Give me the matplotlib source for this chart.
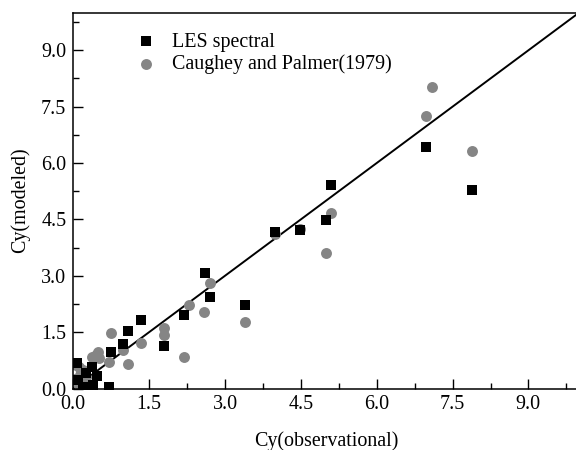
import matplotlib
matplotlib.use("Agg")
import matplotlib.pyplot as plt
import numpy as np
from matplotlib.ticker import MultipleLocator

# LES spectral (black squares)
les_x = [7.89, 6.98, 5.09, 4.99, 4.49, 3.99, 3.40, 2.70, 2.60, 2.19, 1.80, 1.34,
         1.09, 0.99, 0.75, 0.71, 0.47, 0.38, 0.36, 0.07, 0.19, 0.10, 0.25]
les_y = [5.28, 6.42, 5.42, 4.49, 4.23, 4.17, 2.21, 2.44, 3.08, 1.96, 1.13, 1.81,
         1.53, 1.19, 0.96, 0.04, 0.33, 0.10, 0.57, 0.67, 0.05, 0.22, 0.40]

# Caughey and Palmer (1979) (gray circles)
cp_x = [7.10, 6.98, 7.89, 5.09, 4.99, 4.49, 3.99, 3.39, 2.70, 2.58, 2.29, 2.19,
        1.80, 1.80, 1.34, 1.09, 0.99, 0.75, 0.71, 0.49, 0.44, 0.36, 0.51,
        0.12, 0.20, 0.13, 0.23, 0.07, 0.03, 0.26, 0.16, 0.06]
cp_y = [8.01, 7.26, 6.33, 4.67, 3.61, 4.25, 4.12, 1.77, 2.82, 2.03, 2.23, 0.84,
        1.61, 1.43, 1.21, 0.64, 1.02, 1.49, 0.71, 0.97, 0.90, 0.85, 0.80,
        0.58, 0.49, 0.36, 0.22, 0.14, 0.25, 0.30, 0.44, 0.62]

line_x = [0, 10]
line_y = [0, 10]

plt.rcParams['font.family'] = ['Liberation Serif', 'DejaVu Serif']

fig = plt.figure(figsize=(5.76, 4.5), dpi=100)
ax = fig.add_axes([73.3/576, 1-388.5/450, (579-73.3)/576, (388.5-12.7)/450])

ax.plot(line_x, line_y, color='black', lw=1.4, zorder=1)
ax.scatter(cp_x, cp_y, marker='o', s=62, color='#858585', linewidths=0,
           label='Caughey and Palmer(1979)', zorder=2)
ax.scatter(les_x, les_y, marker='s', s=52, color='black', linewidths=0,
           label='LES spectral', zorder=3)

ax.set_xlim(0, 10)
ax.set_ylim(0, 10)
ax.xaxis.set_major_locator(MultipleLocator(1.5))
ax.yaxis.set_major_locator(MultipleLocator(1.5))
ax.xaxis.set_minor_locator(MultipleLocator(0.75))
ax.yaxis.set_minor_locator(MultipleLocator(0.75))
ax.xaxis.set_major_formatter(matplotlib.ticker.FormatStrFormatter('%.1f'))
ax.yaxis.set_major_formatter(matplotlib.ticker.FormatStrFormatter('%.1f'))
ax.tick_params(which='both', direction='in', top=False, right=False,
               labelsize=14.4, width=1.0)
ax.tick_params(which='major', length=7, pad=5)
ax.tick_params(which='minor', length=4)
for sp in ax.spines.values():
    sp.set_linewidth(1.1)

ax.set_xlabel('Cy(observational)', fontsize=14.4, labelpad=12)
ax.set_ylabel('Cy(modeled)', fontsize=14.4, labelpad=8)

handles, labels = ax.get_legend_handles_labels()
ax.legend(handles[::-1], labels[::-1], loc='upper left',
          bbox_to_anchor=(0.085, 0.995), frameon=False, fontsize=14.4,
          handletextpad=0.7, labelspacing=0.15, handlelength=1.2,
          scatterpoints=1)

fig.savefig('out.png', dpi=100)
